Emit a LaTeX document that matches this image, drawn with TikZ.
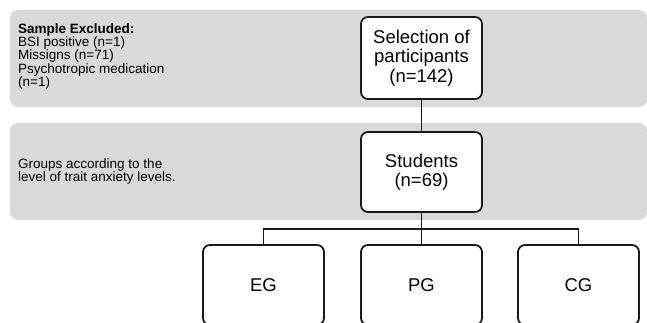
\documentclass[tikz,border=0pt]{standalone}
\usepackage{fontspec}
\setmainfont{Liberation Sans}
\definecolor{bandgray}{HTML}{D9D9D9}
\definecolor{linec}{HTML}{1A1A1A}
\begin{document}
\begin{tikzpicture}[x=1pt,y=-1pt,
  band/.style={fill=bandgray, rounded corners=8pt},
  box/.style={draw=linec, line width=1.8pt, fill=white, rounded corners=7pt,
    minimum width=121pt, align=center, inner sep=0pt,
    font=\fontsize{18.5}{19.5}\selectfont},
  conn/.style={draw=linec, line width=1.8pt},
  note/.style={anchor=north west, align=left, inner sep=0pt,
    font=\fontsize{13.5}{13.3}\selectfont}]
\useasboundingbox (0,0) rectangle (647,323);
\path[band] (10,10) rectangle (647,107);
\path[band] (10,123) rectangle (647,220);
\node[note] (excl) at (18,23.3) {\textbf{Sample Excluded:}\\BSI positive (n=1)\\Missigns (n=71)\\Psychotropic medication\\(n=1)};
\node[note] (grp) at (18,158.5) {Groups according to the\\level of trait anxiety levels.};
\node[box, minimum height=82pt] (sel) at (421.5,58) {Selection of\\participants\\(n=142)};
\node[box, minimum height=80pt] (stu) at (421.5,172) {Students\\(n=69)};
\node[box, minimum height=80pt] (eg) at (263.5,285) {EG};
\node[box, minimum height=80pt] (pg) at (421.5,285) {PG};
\node[box, minimum height=80pt] (cg) at (578.5,285) {CG};
\coordinate (split) at (421.5,229);
\draw[conn] (sel.south) -- (stu.north);
\draw[conn] (stu.south) -- (split);
\draw[conn] (split) -- (pg.north);
\draw[conn] (split) -| (eg.north);
\draw[conn] (split) -| (cg.north);
\end{tikzpicture}
\end{document}
